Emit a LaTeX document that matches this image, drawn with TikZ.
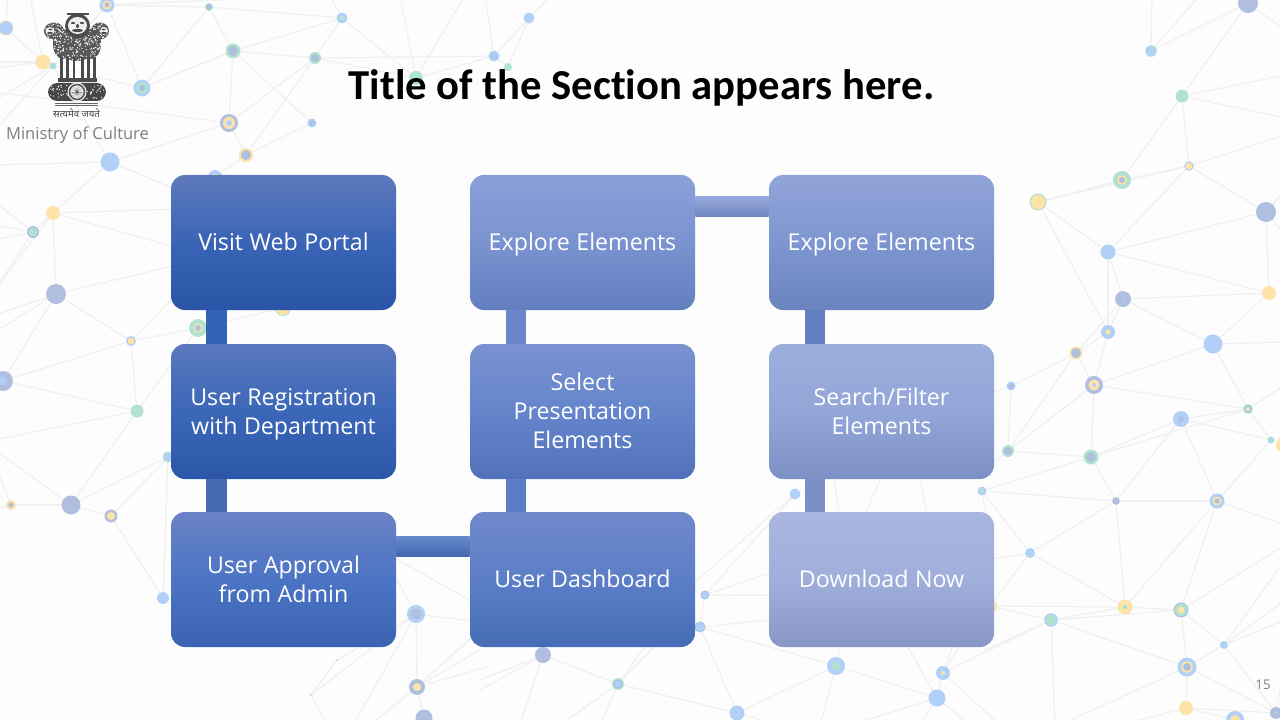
\documentclass[tikz,border=0pt]{standalone}
\usepackage{fontspec}
\setmainfont{Open Sans}
\newfontfamily\titlefont[Ligatures=NoCommon]{Carlito}
\newfontfamily\hindifont[Script=Devanagari]{Noto Sans}
\usetikzlibrary{calc}
\definecolor{paper}{HTML}{FDFDFD}
\definecolor{wire}{HTML}{F0F0F0}
\definecolor{bl}{HTML}{B1D0F8}
\definecolor{gy}{HTML}{B0BEE0}
\definecolor{yw}{HTML}{FEE3A8}
\definecolor{gn}{HTML}{B0E2CF}
\definecolor{te}{HTML}{A9DDE0}
\definecolor{greytext}{HTML}{7F7F7F}
\newcommand{\boxcolors}[4]{\definecolor{#1t}{HTML}{#2}\definecolor{#1m}{HTML}{#3}\definecolor{#1b}{HTML}{#4}}
\boxcolors{visit}{5D79BC}{3A64B6}{2A55A6}
\boxcolors{regist}{5A78BE}{3C67B8}{2C57A8}
\boxcolors{approve}{6A82C6}{4C74C4}{3A63B2}
\boxcolors{dash}{7088CB}{5C7EC8}{466CB6}
\boxcolors{select}{7B91D1}{6485CB}{5171BA}
\boxcolors{explore}{8A9FD8}{7A93D0}{627FC0}
\boxcolors{exploreb}{91A4D9}{7E96CF}{6A84C0}
\boxcolors{search}{9CAEDD}{93A6D8}{7C90C6}
\boxcolors{download}{A9B6DE}{A0AEDB}{8997C7}
\definecolor{visitbar}{HTML}{3363B8}
\definecolor{selectbar}{HTML}{6A85C8}
\tikzset{
 netdot/.style
  = {circle, inner sep=0pt, outer sep=0pt},
 netlink/.style
  = {draw=wire, line width=0.9pt},
 stepbox/.style
  = {rectangle, rounded corners=10.5pt, minimum width=168.75pt, minimum height=101.25pt,
     text width=160pt, align=center, text=white, font=\fontsize{17.4}{21.75}\selectfont,
     execute at begin node={\spaceskip=0.28em\relax\rule{0pt}{17.5pt}}, execute at end node=\rule[-4.8pt]{0pt}{4.8pt},
     top color=#1t, bottom color=#1b, middle color=#1m},
 vbar/.style
  = {line width=15.5pt},
}
% Network dots: name/x/y/outer radius/colour/ring radius/colour/centre radius/colour
\newcommand{\netlist}{
 t1/107/5/7.5/bl/4.5/yw/2.5/gy, t2/6/28/7.5/yw/6.8/bl/0.1/bl, t3/43/62/7.5/yw/0.1/yw/0.1/yw,
 t4/53/66/3.5/te/0.1/te/0.1/te, t5/142/88/8.5/bl/6/gn/3/gy, t6/209/7/4/gn/3/gy/0.1/gy,
 t7/233/51/7.5/gn/5/gy/0.1/gy, t8/315/58/6/gn/4/gy/0.1/gy, t9/229/123/9/gy/6/yw/3/bl,
 t10/312/123/4.5/bl/2.5/gy/0.1/gy, t11/246/155/7/yw/5/gy/0.1/gy, t12/110/162/9.5/bl/0.1/bl/0.1/bl,
 t13/215/177/7/bl/3.5/yw/0.1/yw, t14/342/18/5.5/bl/2.5/gn/0.1/gn, t15/416/78/7/gn/0.1/gn/0.1/gn,
 t16/494/56/5.5/bl/3/gy/2/bl, t17/508/67/4/gn/0.1/gn/0.1/gn, t18/529/18/5.5/bl/0.1/bl/0.1/bl,
 l1/53/213/7/yw/0.1/yw/0.1/yw, l2/33/232/6/gy/4.5/gn/0.1/gn, l3/56/294/10/gy/0.1/gy/0.1/gy,
 l4/131/341/5/bl/3.5/yw/0.1/yw, l5/137/411/6.5/gn/0.1/gn/0.1/gn, l6/3/381/10/gy/4/bl/0.1/bl,
 l7/198/328/9/gn/4.5/yw/3/gy, l8/283/308/8/gn/7/yw/0.1/yw, l9/11/505/5/yw/2.5/gy/0.1/gy,
 l10/71/505/9.5/gy/0.1/gy/0.1/gy, l11/111/516/6.5/gy/4/yw/0.1/yw, l12/168/457/5.5/gn/4.5/bl/0.1/bl,
 l13/163/598/6/bl/0.1/bl/0.1/bl,
 b1/416/614/9/bl/5.5/gy/0.1/gy, b2/417/687/8/gy/4/yw/0.1/yw, b3/424/718/8.5/gy/0.1/gy/0.1/gy,
 b4/337/660/1/bl/0.1/bl/0.1/bl, b5/311/695/1.5/yw/0.7/gy/0.1/gy, b6/543/655/8/gy/0.1/gy/0.1/gy,
 b7/618/684/6/gn/4.5/gy/3/bl, b8/737/713/7.5/bl/0.1/bl/0.1/bl, b9/700/627/5.5/gy/4.5/bl/0.1/bl,
 b10/705/595/4.5/gy/3.5/bl/0.1/bl, b11/795/494/5.5/bl/0.1/bl/0.1/bl, b12/836/666/9/bl/4.5/gn/0.1/gn,
 b13/943/673/7/bl/2/yw/0.1/yw, b14/937/698/8.5/bl/0.1/bl/0.1/bl,
 r1/1151/51/5.8/gn/5/bl/0.1/bl, r2/1248/3/10/gy/0.1/gy/0.1/gy, r3/1182/96/6.5/gn/0.1/gn/0.1/gn,
 r4/1189/166/4.8/bl/3.5/yw/0.1/yw, r5/1122/180/9/gn/4.8/yw/3/gy, r6/1038/202/8.5/gn/7.2/yw/0.1/yw,
 r7/1108/252/7.5/bl/0.1/bl/0.1/bl, r8/1266/212/10/gy/0.1/gy/0.1/gy, r9/1269/293/7/yw/0.1/yw/0.1/yw,
 r10/1123/299/8/gy/1.5/bl/0.1/bl, r11/1108/332/7/bl/2.5/yw/0.1/yw, r12/1213/344/9.5/bl/0.1/bl/0.1/bl,
 r13/1076/353/6.5/yw/5/gy/0.1/gy, r14/1011/386/4.5/bl/3/gy/0.1/gy, r15/1094/385/9/gy/5.5/yw/2/bl,
 r16/1181/419/8/bl/3/gy/0.1/gy, r17/1248/409/5/gn/3.5/gy/2/yw, r18/1271/440/3.5/te/0.1/te/0.1/te,
 r19/1284/445/8/yw/0.1/yw/0.1/yw, r20/1008/451/6/gn/4/gy/0.1/gy, r21/1091/457/7.5/gn/5/gy/0.1/gy,
 r22/1116/501/3.8/gy/0.1/gy/0.1/gy, r23/1217/501/7.5/bl/4.5/yw/2.5/gy, r24/982/491/4.5/bl/2/gn/0.1/gn,
 r25/1030/553/5/bl/0.1/bl/0.1/bl, r26/990/606/7/yw/0.1/yw/0.1/yw, r27/1125/607/7.5/yw/2/te/0.1/te,
 r28/1181/610/7.5/gy/6.3/gn/3.5/yw, r29/1051/620/6.8/bl/5.5/gn/0.1/gn, r30/1224/645/4/bl/0.1/bl/0.1/bl,
 r31/1187/667/9.5/bl/5.8/yw/4/gy, r32/1186/708/7/yw/0.1/yw/0.1/yw, r33/1235/720/9/bl/5/yw/0.1/yw,
 r34/1276/713/6/gy/1/gn/0.1/gn}

\begin{document}
\begin{tikzpicture}[x=0.75pt,y=-0.75pt]
\useasboundingbox (0,0) rectangle (1280,720);
\fill[paper] (0,0) rectangle (1280,720);
\clip (0,0) rectangle (1280,720);

% Places of the dots
\foreach \nm/\px/\py/\ra/\ca/\rb/\cb/\rc/\cc in \netlist
 {\node[netdot, minimum size=1.5pt*\ra] (\nm) at (\px,\py) {};}

% Free ends of the wires, off the page or behind a box
\foreach \nm/\px/\py in {
 x1/30/-5, x2/8/-5, x3/-5/62, x4/-5/68, x5/-5/100, x6/-5/130, x7/-5/92, x8/-5/165,
 x9/-5/202, x10/-5/225, x11/-5/240, x12/-5/290, x13/-5/315, x14/-5/332, x15/-5/440, x16/-5/450,
 x17/-5/465, x18/-5/510, x19/330/-5, x20/400/-5, x21/465/-5, x22/485/-5, x23/552/-5, x24/353/725,
 x25/370/725, x26/327/725, x27/520/725, x28/560/725, x29/600/725, x30/780/725, x31/820/725, x32/850/725,
 x33/920/725, x34/970/725, x35/1000/725, x36/1152/-5, x37/1200/-5, x38/1285/30, x39/1285/75, x40/1285/118,
 x41/1285/135, x42/1285/190, x43/1285/235, x44/1285/342, x45/1285/385, x46/1285/525, x47/1285/545, x48/1285/560,
 x49/1285/600, x50/1285/620, x51/1055/725, x52/1060/725, x53/1120/725, x54/1280/690,
 h1/190/195, h2/240/207, h3/250/268, h4/240/250, h5/190/280, h7/380/550, h8/480/606, h9/480/622,
 h10/480/630, h11/480/650, h12/490/666, h13/480/680, h14/480/690, h15/675/600, h16/650/640, h17/680/620,
 h18/870/596, h19/870/610, h20/880/536, h21/842/640, h22/908/647, h23/963/640, h24/955/640, h25/985/395,
 h26/985/470, h27/985/490, h28/985/510, h29/985/560, h30/985/650, h31/833/470, h32/840/520, h33/880/480,
 h34/862/520, h35/920/480, h36/928/520}
 {\coordinate (\nm) at (\px,\py);}

% Wires
\foreach \a/\b in {
 t1/t6, t1/t5, t1/t4, t1/x19, t2/t3, t2/x2, t3/t4, t3/x1, t3/x3, t3/x4, t4/x5, t4/x6, t4/t5, t4/t12,
 t5/t7, t5/t6, t6/t7, t6/t14, t7/t14, t7/t8, t7/t9, t7/t5, t8/t9, t8/t11, t8/t14, t8/t15, t9/t11, t9/t12,
 t9/x7, t10/t11, t12/x8, t12/h1, t12/l1, t11/t13, t14/t15, t14/x19, t15/x20, t15/x21, t15/t16, t8/t16,
 t16/t18, t16/t17, t16/x22, t17/t18, t18/x23, t10/t7,
 l1/l2, l1/l3, l1/h2, l1/h3, l1/x12, l2/x9, l2/x10, l2/x11, l2/x12, l3/l4, l3/l6, l3/h4, l3/x13, l3/x14,
 l4/l5, l4/l6, l4/l7, l4/h5, l5/l6, l5/l7, l5/l10, l5/x15, l7/l8, l10/x16, l10/l9, l10/l11, l10/l12,
 l11/l12, l11/l13, l12/l13, l9/x17, l9/x18,
 b1/h7, h7/h8, b1/h9, b1/b2, b1/b4, b1/b5, b1/x24, b4/b5, b5/x26, b2/b3, b2/h10, b2/h11, b2/h12, b2/x25,
 b6/b7, b6/h13, b6/h14, b6/x27, b7/b8, b7/h16, b7/h17, b7/x28, b7/x29, b8/b9, b8/b12, b8/x30, b9/b10,
 b9/b12, b9/h19, b10/h18, b10/b11, b10/h20, b11/h15, b12/h21, b12/b14, b12/x31, b14/b13, b14/h22, b14/x32,
 b14/x33, b14/x34, b13/h23, b13/h24, b13/r29, b13/x35, h31/h32, h33/h34, h35/h36,
 r1/r2, r1/x36, r1/x37, r2/r3, r2/x38, r3/r5, r3/r4, r3/x39, r3/x40, r5/r4, r5/r6, r4/r6, r4/r7, r4/r8,
 r4/x41, r6/r7, r6/r11, r7/r8, r7/r9, r7/r10, r7/r11, r8/r9, r8/x42, r8/x43, r10/r9, r10/r12, r10/r11,
 r10/r13, r12/r9, r12/x44, r12/r15, r12/r17, r11/r13, r11/r15, r13/r15, r13/r14, r13/r20, r15/r17, r15/r21,
 r15/r20, r14/r20, r14/h25, r20/r21, r20/h26, r21/r16, r21/r17, r21/r22, r21/h27, r16/r17, r16/r18, r17/r18,
 r16/r22, r16/r23, r17/x45, r23/r22, r23/r18, r23/r28, r23/r27, r23/x46, r22/r24, r22/r25, r22/r27, r24/r25,
 r24/h28, r25/r27, r25/h29, r25/r26, r26/r27, r26/r29, r27/r29, r27/r28, r28/r29, r28/x47, r28/r30, r28/r31,
 r29/r31, r29/x51, r29/h30, r30/r31, r30/r34, r30/x48, r30/x49, r30/x50, r31/r34, r31/r32, r31/x52, r32/r33,
 r32/r34, r32/x53, r34/x54}
 {\draw[netlink] (\a) -- (\b);}

% Dots
\foreach \nm/\px/\py/\ra/\ca/\rb/\cb/\rc/\cc in \netlist
 {
  \fill[\ca] (\px,\py) circle[radius=\ra];
  \fill[\cb] (\px,\py) circle[radius=\rb];
  \fill[\cc] (\px,\py) circle[radius=\rc];
 }

% Emblem
\pgfmathsetseed{11}
\begin{scope}
 \clip (77,44) ellipse[x radius=19, y radius=17] (54,31) ellipse[x radius=10, y radius=8.5]
  (100,31) ellipse[x radius=9, y radius=8.5] (63,44) ellipse[x radius=10, y radius=15]
  (91,44) ellipse[x radius=10, y radius=15];
 \fill[black!65] (40,10) rectangle (112,65);
 \foreach \i in {1,...,460}
  \fill[white] (44+64*rnd,20+42*rnd) circle[radius=0.65];
\end{scope}
\fill[black!70] (77.5,26) ellipse[x radius=12.5, y radius=12.5];
\fill[black!70] (66.5,13) rectangle (88.5,15);
\fill[white!94!black] (77.5,25.5) ellipse[x radius=9.5, y radius=8.5];
\fill[black!70] (73,23) ellipse[x radius=2.2, y radius=1] (82,23) ellipse[x radius=2.2, y radius=1]
 (77.5,26) ellipse[x radius=1.5, y radius=2] (77.5,30.5) ellipse[x radius=5.5, y radius=1.6];
\fill[white!94!black] (50,31) ellipse[x radius=4.5, y radius=4] (104,31) ellipse[x radius=4, y radius=4];
\fill[black!70] (50.5,29.5) ellipse[x radius=2, y radius=0.8] (103.5,29.5) ellipse[x radius=2, y radius=0.8]
 (50,33) ellipse[x radius=3, y radius=1] (104,33) ellipse[x radius=3, y radius=1];
\foreach \u in {60,66,72.5,81,87,93}
 \fill[black!70] (\u,57) rectangle (\u+2.6,80);
\fill[black!70] (58,78.5) rectangle (97,82);
\fill[black!72, rounded corners=7pt] (48,83) rectangle (106,101);
\foreach \i in {1,...,70}
 \fill[white] (50+54*rnd,85+14*rnd) circle[radius=0.65];
\fill[white] (77,92) circle[radius=9.5];
\draw[black!65, line width=1.3pt] (77,92) circle[radius=7.5];
\foreach \u in {0,20,...,340}
 \draw[black!40, line width=0.35pt] (77,92) -- ++(\u:6);
\fill[black!65] (77,92) circle[radius=1.5];
\draw[black!60, line width=0.5pt] (55,103) -- (98,103) (55,105) -- (98,105);
\node[inner sep=0pt, text=black!75, font=\hindifont\fontsize{7.2}{8}\selectfont] (motto) at (76.5,113) {सत्यमेव जयते};

% Labels
\node[inner sep=0pt, text=greytext, font=\fontsize{12.4}{14}\selectfont] (ministry) at (77.5,135.5) {Ministry of Culture};
\node[inner sep=0pt, text=black, font=\titlefont\bfseries\fontsize{32}{38}\selectfont] (title) at (641.5,88) {Title of the Section appears here.};
\node[inner sep=0pt, text=greytext, font=\fontsize{10}{12}\selectfont] (pageno) at (1263,685) {15};

% Steps
\node[stepbox=visit] (visit) at (283.5,242.5) {Visit Web Portal};
\node[stepbox=regist] (regist) at (283.5,411.5) {User Registration\\with Department};
\node[stepbox=approve] (approve) at (283.5,579.5) {User Approval\\from Admin};
\node[stepbox=dash] (dash) at (582.5,579.5) {User Dashboard};
\node[stepbox=select] (select) at (582.5,411.5) {Select\\Presentation\\Elements};
\node[stepbox=explore] (explore) at (582.5,242.5) {Explore Elements};
\node[stepbox=exploreb] (exploreb) at (881.5,242.5) {Explore Elements};
\node[stepbox=search] (search) at (881.5,411.5) {Search/Filter\\Elements};
\node[stepbox=download] (download) at (881.5,579.5) {Download Now};

% Links
\draw[vbar, draw=visitbar] ($(visit.south)+(-67,0)$) -- ($(regist.north)+(-67,0)$);
\draw[vbar, draw=approvem!92!black] ($(regist.south)+(-67,0)$) -- ($(approve.north)+(-67,0)$);
\draw[vbar, draw=dashm] ($(dash.north)+(-66.5,0)$) -- ($(select.south)+(-66.5,0)$);
\draw[vbar, draw=selectbar] ($(select.north)+(-66.5,0)$) -- ($(explore.south)+(-66.5,0)$);
\draw[vbar, draw=exploreb] ($(exploreb.south)+(-66.5,0)$) -- ($(search.north)+(-66.5,0)$);
\draw[vbar, draw=searchb] ($(search.south)+(-66.5,0)$) -- ($(download.north)+(-66.5,0)$);
\shade[top color=approvem!85!white, bottom color=approvem!90!black] ($(approve.east)+(0,-43.5)$) -- ($(dash.west)+(0,-43.5)$)
 -- ($(dash.west)+(0,-23.5)$) -- ($(approve.east)+(0,-23.5)$) -- cycle;
\shade[top color=exploret!90!white, bottom color=explorem!90!black] ($(explore.east)+(0,-45.5)$) -- ($(exploreb.west)+(0,-45.5)$)
 -- ($(exploreb.west)+(0,-25.5)$) -- ($(explore.east)+(0,-25.5)$) -- cycle;
\end{tikzpicture}
\end{document}
